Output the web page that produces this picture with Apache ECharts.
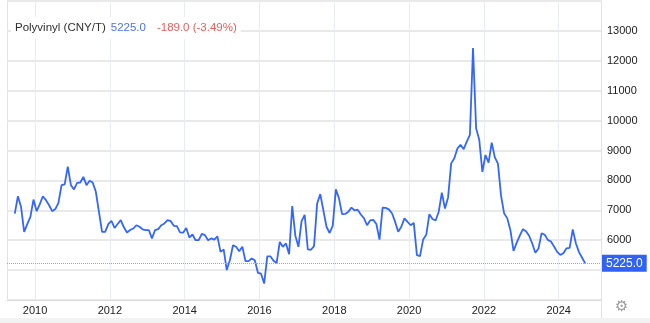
<!DOCTYPE html>
<html>
<head>
<meta charset="utf-8">
<script src="https://cdn.jsdelivr.net/npm/echarts/dist/echarts.min.js"></script>
<style>
html,body{margin:0;padding:0;background:#fff;}
#c{width:650px;height:323px;}
</style>
</head>
<body>
<div id="c"></div>
<script>
// ---- data (monthly, CNY/T) ----
const title = 'Polyvinyl (CNY/T)';
const lastValue = 5225.0;
const change = -189.0;
const changePct = -3.49;
const firstYear = 2009, firstMonth = 6;
const v2009 = [6890, 7470, 7120, 6280, 6540, 6780, 7360];                    // Jun-Dec
const v2010 = [6970, 7200, 7470, 7340, 7170, 6970, 7040, 7250, 7840, 7870, 8460, 7840];
const v2011 = [7700, 7920, 7930, 8120, 7840, 7990, 7930, 7620, 6950, 6280, 6280, 6540];
const v2012 = [6650, 6410, 6540, 6670, 6430, 6260, 6340, 6390, 6500, 6450, 6360, 6340];
const v2013 = [6340, 6060, 6340, 6370, 6500, 6560, 6670, 6640, 6480, 6470, 6260, 6250];
const v2014 = [6410, 6090, 6190, 6000, 6000, 6210, 6170, 6000, 6060, 6020, 6130, 5610];
const v2015 = [5690, 5000, 5330, 5830, 5780, 5630, 5780, 5300, 5300, 5390, 5330, 4910];
const v2016 = [4880, 4550, 5460, 5460, 5310, 5240, 5940, 5780, 5890, 5530, 7140, 6150];
const v2017 = [5780, 6640, 6850, 5690, 5680, 5800, 7230, 7540, 7000, 6450, 6240, 6490];
const v2018 = [7700, 7400, 6870, 6880, 6950, 7090, 7000, 7020, 6860, 6740, 6500, 6660];
const v2019 = [6680, 6540, 6020, 7090, 7080, 7030, 6900, 6620, 6280, 6450, 6730, 6610];
const v2020 = [6500, 6580, 5500, 5470, 6020, 6180, 6870, 6710, 6660, 6950, 7590, 7060];
const v2021 = [7430, 8570, 8740, 9070, 9190, 9045, 9295, 9520, 12430, 9740, 9360, 8280];
const v2022 = [8850, 8595, 9265, 8770, 8560, 7480, 6890, 6730, 6335, 5640, 5910, 6150];
const v2023 = [6370, 6300, 6150, 5890, 5580, 5720, 6235, 6180, 6010, 5955, 5790, 5610];
const v2024 = [5510, 5565, 5730, 5745, 6360, 5900, 5600, 5414, 5225];         // Jan-Sep
const yearLabels = [2010, 2012, 2014, 2016, 2018, 2020, 2022, 2024];

// ---- build series from arrays ----
const years = [v2009, v2010, v2011, v2012, v2013, v2014, v2015, v2016,
               v2017, v2018, v2019, v2020, v2021, v2022, v2023, v2024];
const seriesData = [];
years.forEach((arr, i) => {
  const yr = firstYear + i;
  const m0 = (i === 0) ? firstMonth : 1;
  arr.forEach((v, j) => {
    const m = m0 + j;
    seriesData.push([yr + (m - 0.5) / 12, v]);
  });
});

const FONT = 'Arial, "Liberation Sans", sans-serif';
const chart = echarts.init(document.getElementById('c'), null, {renderer: 'canvas'});
chart.setOption({
  animation: false,
  backgroundColor: '#fff',
  textStyle: {fontFamily: FONT},
  title: {
    text: '{a|' + title + '} {b|' + lastValue.toFixed(1) + '}{c|' + change.toFixed(1) + ' (' + changePct.toFixed(2) + '%)}',
    left: 11, top: 17,
    padding: [2, 4, 2, 4],
    backgroundColor: '#fff',
    textStyle: {
      fontFamily: FONT,
      fontWeight: 'normal',
      rich: {
        a: {fontSize: 11.5, color: '#2f2f2f', fontFamily: FONT, fontWeight: 'normal'},
        b: {fontSize: 11.5, color: '#4a72f5', fontFamily: FONT, fontWeight: 'normal'},
        c: {fontSize: 11.5, color: '#ef5a5a', fontFamily: FONT, fontWeight: 'normal', padding: [0, 0, 0, 11]}
      }
    }
  },
  grid: {left: 7, right: 49, top: 1, bottom: 23, containLabel: false, outerBoundsMode: 'none'},
  xAxis: {
    type: 'value',
    min: 2009.25,
    max: 2025.13,
    axisLine: {show: true, lineStyle: {color: '#dcdcdc', width: 1}},
    axisTick: {show: false, customValues: yearLabels},
    axisLabel: {
      customValues: yearLabels,
      color: '#222', fontSize: 11, margin: 5, fontFamily: FONT,
      formatter: v => String(Math.round(v))
    },
    splitLine: {show: true, lineStyle: {color: '#e8edf4', width: 1}}
  },
  yAxis: {
    type: 'value',
    position: 'right',
    min: 4000, max: 14000, interval: 1000,
    axisLine: {show: true, lineStyle: {color: '#e2e2e2'}},
    axisTick: {show: false},
    axisLabel: {
      color: '#1a1a1a', fontSize: 11, margin: 6, fontFamily: FONT,
      formatter: v => (v === 4000 || v === 5000 || v === 14000) ? '' : String(v)
    },
    splitLine: {show: true, lineStyle: {color: '#e9e9e9', width: 2}}
  },
  series: [{
    type: 'line',
    data: seriesData,
    showSymbol: false,
    symbol: 'none',
    lineStyle: {color: '#3366ff', width: 1.8},
    itemStyle: {color: '#3366ff'},
    markLine: {
      silent: true,
      symbol: ['none', 'none'],
      lineStyle: {type: 'dotted', color: '#8aa4ff', width: 1},
      label: {
        position: 'end',
        distance: 1,
        formatter: () => lastValue.toFixed(1),
        color: '#fff',
        backgroundColor: '#2f62f5',
        padding: [3, 4, 2, 4],
        fontSize: 12,
        fontFamily: FONT
      },
      data: [{yAxis: lastValue}]
    }
  }],
  graphic: [
    {type: 'line', shape: {x1: 7.5, y1: 0, x2: 7.5, y2: 300}, style: {stroke: '#e2e2e2', lineWidth: 1}, silent: true},
    {type: 'line', shape: {x1: 601.5, y1: 300, x2: 601.5, y2: 318}, style: {stroke: '#e2e2e2', lineWidth: 1}, silent: true},
    {type: 'rect', shape: {x: 0, y: 318, width: 650, height: 5}, style: {fill: '#f2f2f2'}, silent: true},
    {type: 'text', left: 615, top: 300, style: {text: '⚙', fill: '#9a9a9a', font: '15px "DejaVu Sans"'}, silent: true}
  ]
});
</script>
</body>
</html>
